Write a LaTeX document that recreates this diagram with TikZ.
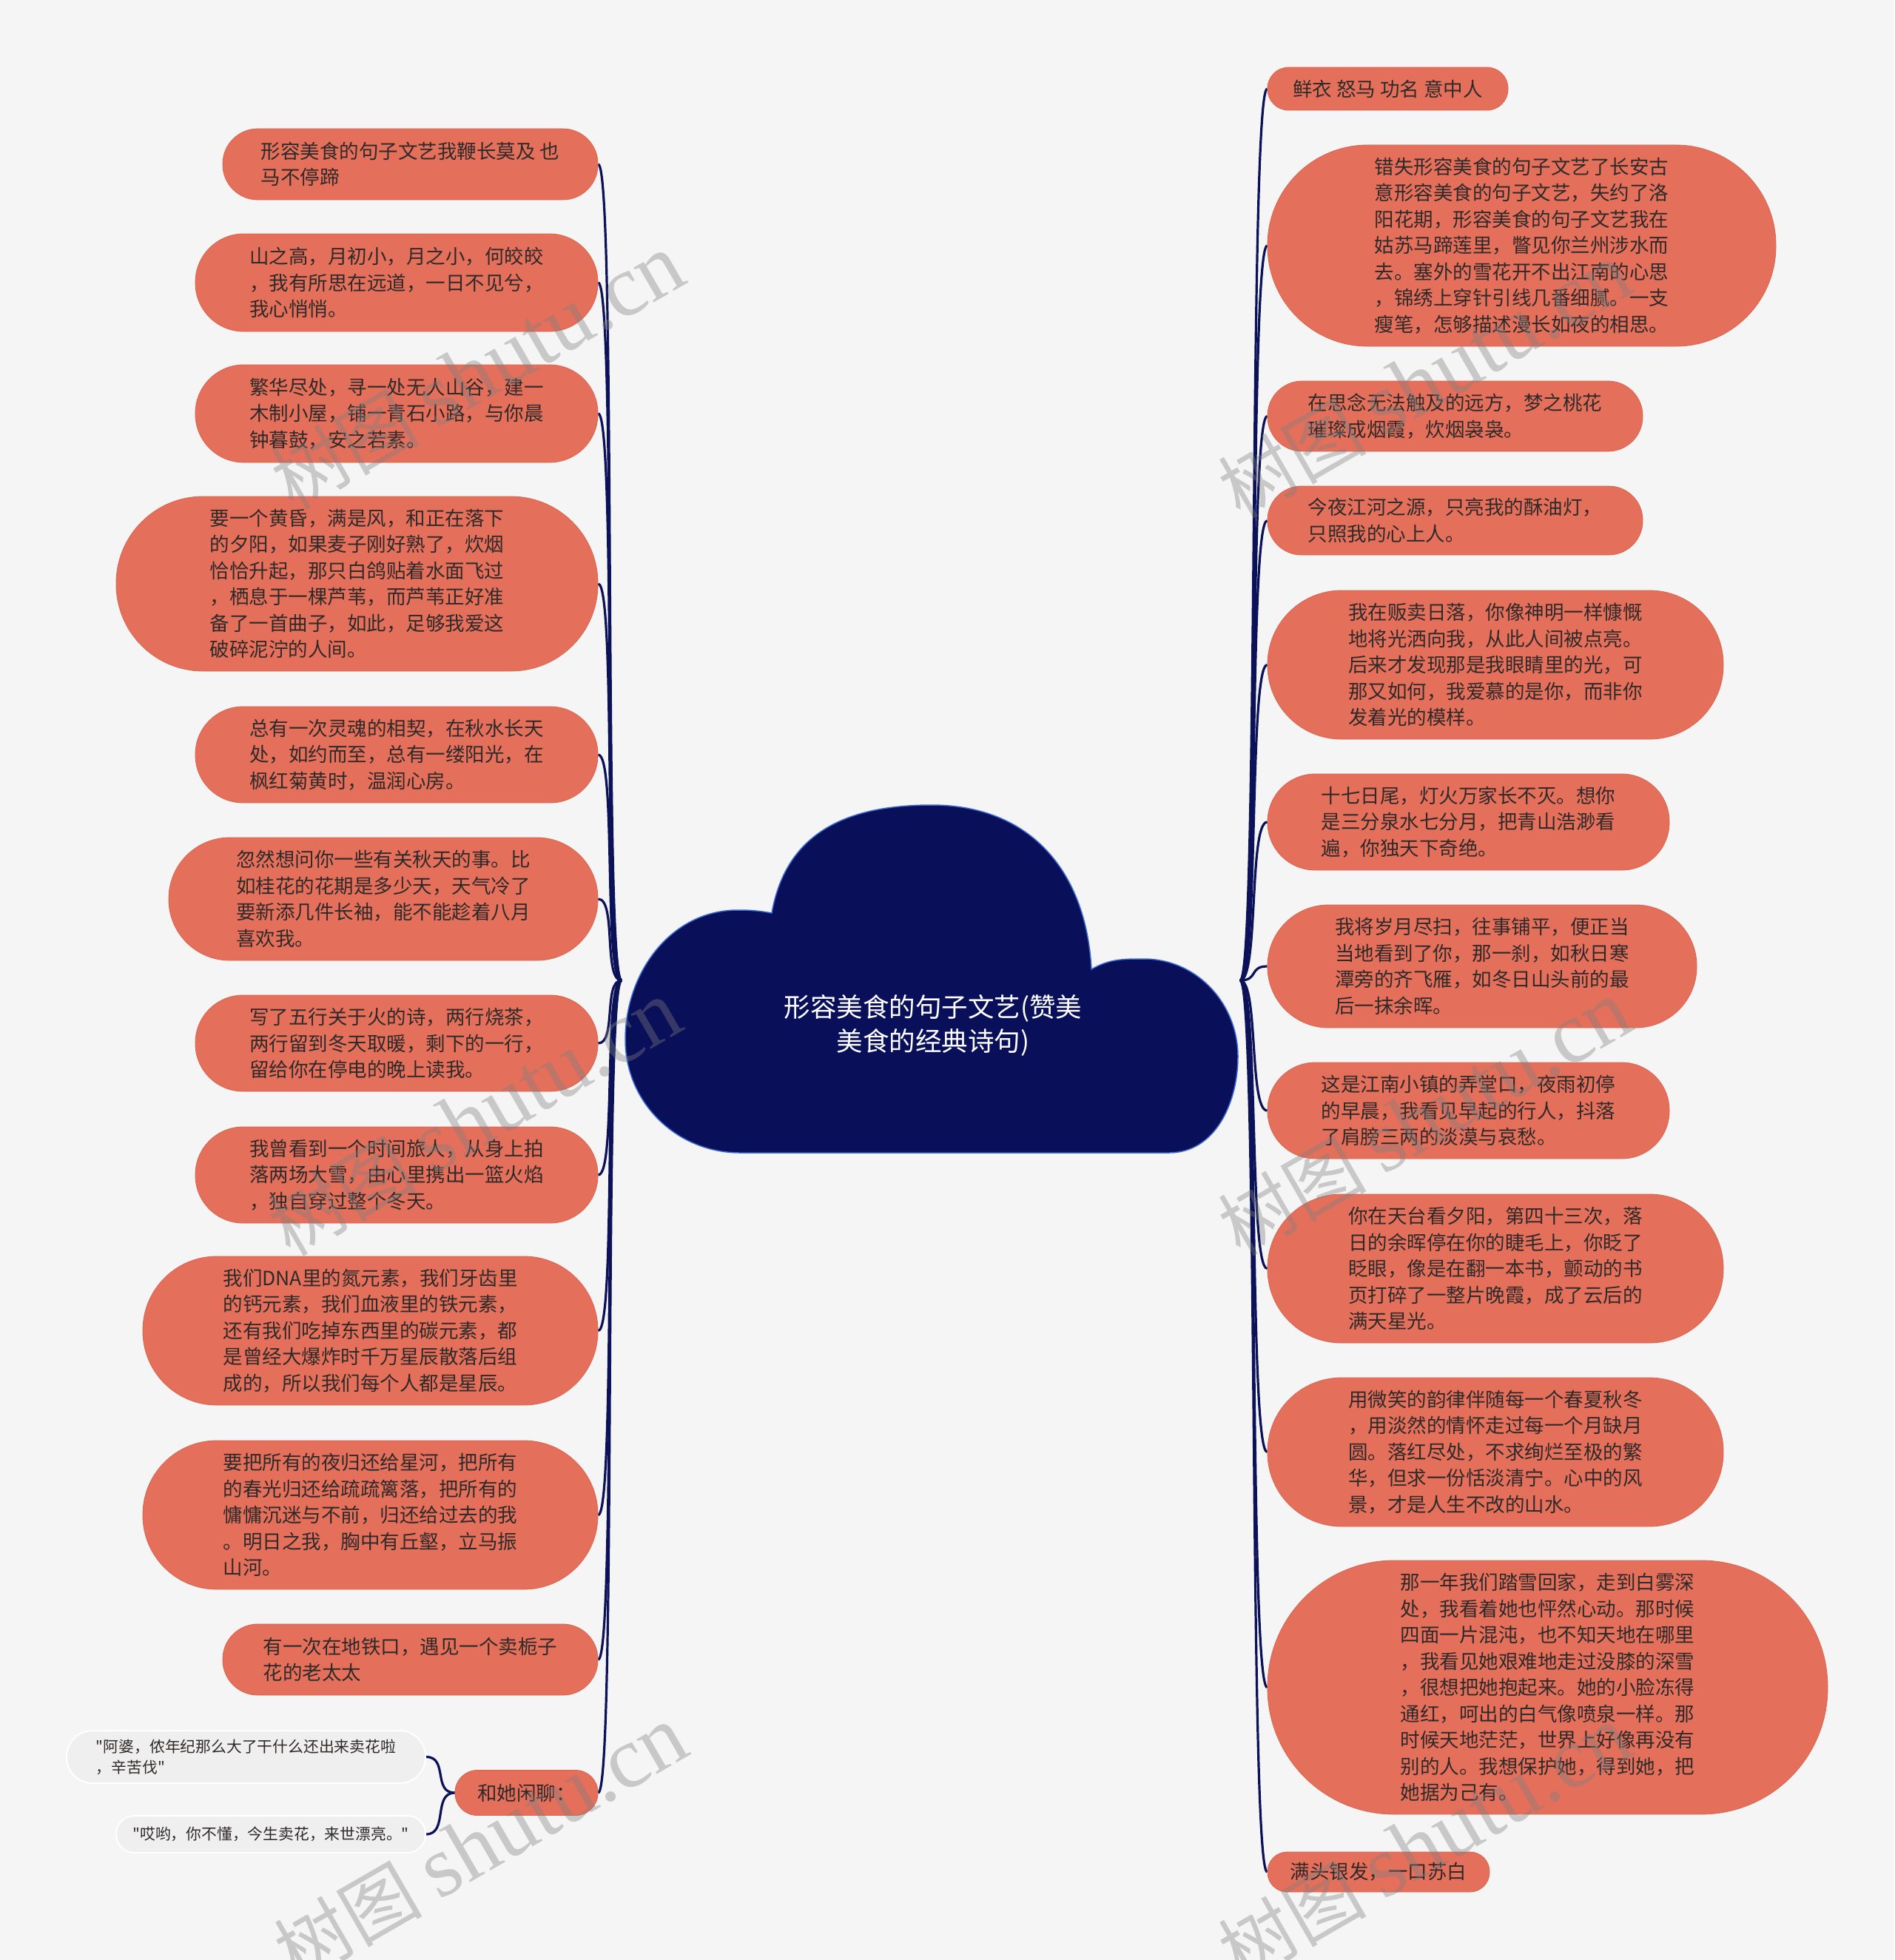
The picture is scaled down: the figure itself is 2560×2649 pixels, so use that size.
\documentclass[tikz,border=0pt]{standalone}
\usepackage{fontspec}
\newfontfamily\cjk{Noto Sans CJK SC}
\newfontfamily\wmserif{Liberation Serif}
\usetikzlibrary{backgrounds}
\definecolor{bg}{HTML}{F5F5F5}
\definecolor{coral}{HTML}{E46F5B}
\definecolor{coralD}{HTML}{D9644F}
\definecolor{navy}{HTML}{0A0F5A}
\definecolor{navyL}{HTML}{3D6AD0}
\definecolor{conn}{HTML}{0B1257}
\definecolor{txt}{HTML}{2F2A2A}
\definecolor{subfill}{HTML}{EFEFEF}
\tikzset{
 leaf/.style={rectangle, fill=coral, draw=coralD, line width=0.8pt, text=txt, align=left, inner sep=0pt, font=\cjk\fontsize{26.5}{35.5}\selectfont},
 sub/.style={rectangle, fill=subfill, draw=white, line width=2pt, text=txt, align=left, inner sep=0pt, font=\cjk\fontsize{20.8}{28}\selectfont},
 pill/.style 2 args={minimum width=#1pt, minimum height=#2pt, rounded corners={(#2/2-0.6)*1pt}},
 link/.style={draw=conn, line width=3.2pt},
 wm/.style={text=gray, opacity=0.38, rotate=30, inner sep=0pt}
}
\begin{document}
\begin{tikzpicture}[x=1pt,y=1pt]
\useasboundingbox (0,0) rectangle (2560,-2649);

% central cloud
\path[fill=navy, draw=navyL, line width=1.5pt]
 (1000,-1558) -- (1580,-1558)
 to[out=0,in=-90] (1673,-1428)
 to[out=90,in=0] (1546,-1296)
 to[out=180,in=30] (1475,-1310)
 to[out=93,in=0,looseness=1.1] (1259,-1088)
 to[out=180,in=80,looseness=1.1] (1043,-1234)
 to[out=170,in=0] (997,-1230)
 to[out=180,in=90] (845,-1405)
 to[out=-90,in=180] (1000,-1558) -- cycle;
\node[font=\cjk\fontsize{35.5}{45.6}\selectfont, text=white, align=center] (root) at (1261,-1386) {形容美食的句子文艺(赞美\\美食的经典诗句)};
\coordinate (rootL) at (840,-1325);
\coordinate (rootR) at (1676,-1325);

% left branch
\node[leaf, pill={507}{96}] (L1) at (554.5,-222) {形容美食的句子文艺我鞭长莫及 也\\马不停蹄};
\node[leaf, pill={544}{132}] (L2) at (536,-382) {山之高，月初小，月之小，何皎皎\\，我有所思在远道，一日不见兮，\\我心悄悄。};
\node[leaf, pill={544}{132}] (L3) at (536,-559) {繁华尽处，寻一处无人山谷，建一\\木制小屋，铺一青石小路，与你晨\\钟暮鼓，安之若素。};
\node[leaf, pill={651}{236}] (L4) at (482.5,-789) {要一个黄昏，满是风，和正在落下\\的夕阳，如果麦子刚好熟了，炊烟\\恰恰升起，那只白鸽贴着水面飞过\\，栖息于一棵芦苇，而芦苇正好准\\备了一首曲子，如此，足够我爱这\\破碎泥泞的人间。};
\node[leaf, pill={544}{130}] (L5) at (536,-1020) {总有一次灵魂的相契，在秋水长天\\处，如约而至，总有一缕阳光，在\\枫红菊黄时，温润心房。};
\node[leaf, pill={580}{166}] (L6) at (518,-1215) {忽然想问你一些有关秋天的事。比\\如桂花的花期是多少天，天气冷了\\要新添几件长袖，能不能趁着八月\\喜欢我。};
\node[leaf, pill={544}{130}] (L7) at (536,-1410) {写了五行关于火的诗，两行烧茶，\\两行留到冬天取暖，剩下的一行，\\留给你在停电的晚上读我。};
\node[leaf, pill={544}{130}] (L8) at (536,-1588) {我曾看到一个时间旅人，从身上拍\\落两场大雪，由心里携出一篮火焰\\，独自穿过整个冬天。};
\node[leaf, pill={615}{201}] (L9) at (500.5,-1798.5) {我们DNA里的氮元素，我们牙齿里\\的钙元素，我们血液里的铁元素，\\还有我们吃掉东西里的碳元素，都\\是曾经大爆炸时千万星辰散落后组\\成的，所以我们每个人都是星辰。};
\node[leaf, pill={615}{201}] (L10) at (500.5,-2047.5) {要把所有的夜归还给星河，把所有\\的春光归还给疏疏篱落，把所有的\\慵慵沉迷与不前，归还给过去的我\\。明日之我，胸中有丘壑，立马振\\山河。};
\node[leaf, pill={507}{96}] (L11) at (554.5,-2243) {有一次在地铁口，遇见一个卖栀子\\花的老太太};
\node[leaf, pill={193}{61}] (L12) at (711.5,-2423) {和她闲聊：};
\node[sub, pill={485}{71}] (S1) at (332.5,-2374.5) {"阿婆，侬年纪那么大了干什么还出来卖花啦\\，辛苦伐"};
\node[sub, pill={418}{50}] (S2) at (366,-2479) {"哎哟，你不懂，今生卖花，来世漂亮。"};

% right branch
\node[leaf, pill={325}{58}] (R1) at (1875.5,-120) {鲜衣 怒马 功名 意中人};
\node[leaf, pill={687}{272}] (R2) at (2056.5,-332) {错失形容美食的句子文艺了长安古\\意形容美食的句子文艺，失约了洛\\阳花期，形容美食的句子文艺我在\\姑苏马蹄莲里，瞥见你兰州涉水而\\去。塞外的雪花开不出江南的心思\\，锦绣上穿针引线几番细腻。一支\\瘦笔，怎够描述漫长如夜的相思。};
\node[leaf, pill={507}{95}] (R3) at (1966.5,-562.5) {在思念无法触及的远方，梦之桃花\\璀璨成烟霞，炊烟袅袅。};
\node[leaf, pill={507}{93}] (R4) at (1966.5,-703.5) {今夜江河之源，只亮我的酥油灯，\\只照我的心上人。};
\node[leaf, pill={616}{201}] (R5) at (2021,-898.5) {我在贩卖日落，你像神明一样慷慨\\地将光洒向我，从此人间被点亮。\\后来才发现那是我眼睛里的光，可\\那又如何，我爱慕的是你，而非你\\发着光的模样。};
\node[leaf, pill={543}{130}] (R6) at (1984.5,-1111) {十七日尾，灯火万家长不灭。想你\\是三分泉水七分月，把青山浩渺看\\遍，你独天下奇绝。};
\node[leaf, pill={580}{166}] (R7) at (2003,-1306) {我将岁月尽扫，往事铺平，便正当\\当地看到了你，那一刹，如秋日寒\\潭旁的齐飞雁，如冬日山头前的最\\后一抹余晖。};
\node[leaf, pill={543}{130}] (R8) at (1984.5,-1501) {这是江南小镇的弄堂口，夜雨初停\\的早晨，我看见早起的行人，抖落\\了肩膀三两的淡漠与哀愁。};
\node[leaf, pill={616}{201}] (R9) at (2021,-1714.5) {你在天台看夕阳，第四十三次，落\\日的余晖停在你的睫毛上，你眨了\\眨眼，像是在翻一本书，颤动的书\\页打碎了一整片晚霞，成了云后的\\满天星光。};
\node[leaf, pill={616}{201}] (R10) at (2021,-1962.5) {用微笑的韵律伴随每一个春夏秋冬\\，用淡然的情怀走过每一个月缺月\\圆。落红尽处，不求绚烂至极的繁\\华，但求一份恬淡清宁。心中的风\\景，才是人生不改的山水。};
\node[leaf, pill={757}{343}] (R11) at (2091.5,-2280.5) {那一年我们踏雪回家，走到白雾深\\处，我看着她也怦然心动。那时候\\四面一片混沌，也不知天地在哪里\\，我看见她艰难地走过没膝的深雪\\，很想把她抱起来。她的小脸冻得\\通红，呵出的白气像喷泉一样。那\\时候天地茫茫，世界上好像再没有\\别的人。我想保护她，得到她，把\\她据为己有。};
\node[leaf, pill={300}{54}] (R12) at (1863,-2530) {满头银发，一口苏白};

% connectors and background
\begin{scope}[on background layer]
\fill[bg] (0,0) rectangle (2560,-2649);
\foreach \n in {L1,L2,L3,L4,L5,L6,L7,L8,L9,L10,L11,L12}
  \draw[link] (rootL) .. controls +(-25,0) and +(25,0) .. (\n.east);
\foreach \n in {R1,R2,R3,R4,R5,R6,R7,R8,R9,R10,R11,R12}
  \draw[link] (rootR) .. controls +(25,0) and +(-25,0) .. (\n.west);
\draw[link] (L12.west) .. controls +(-30,0) and +(30,0) .. (S1.east);
\draw[link] (L12.west) .. controls +(-30,0) and +(30,0) .. (S2.east);
\end{scope}

% watermarks
\foreach \wx/\wy/\wn in {646/503/wa, 642/1512/wb, 650/2492/wc, 1926/515/wd, 1926/1512/we, 1926/2492/wf}
  \node[wm] (\wn) at (\wx,-\wy) {\cjk\fontsize{100}{100}\selectfont 树图 \wmserif\fontsize{118}{118}\selectfont shutu.cn};
\end{tikzpicture}
\end{document}
